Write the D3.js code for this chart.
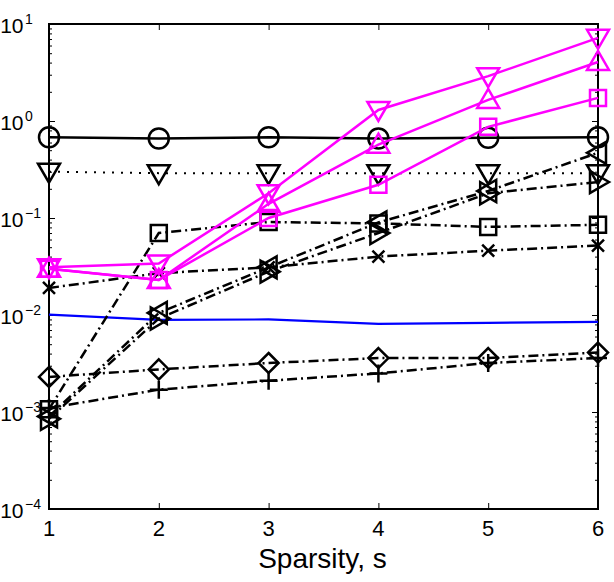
<!DOCTYPE html>
<html lang="en">
<head>
<meta charset="UTF-8">
<title>Sparsity chart</title>
<script src="https://d3js.org/d3.v7.min.js"></script>
<style>
    body { margin: 0; padding: 0; background: #fff; }
    svg { font-family: "Liberation Sans", Arial, sans-serif; }
</style>
</head>
<body>
<div id="chart"></div>
<script>
    // Data
    const sparsity = [1, 2, 3, 4, 5, 6];
    const xTickLabels = ["1", "2", "3", "4", "5", "6"];
    const yTickExps = [-4, -3, -2, -1, 0, 1];

    const circleVals   = [0.68, 0.66, 0.68, 0.66, 0.67, 0.68];
    const dotTriVals   = [0.30, 0.29, 0.29, 0.29, 0.29, 0.29];
    const magDownVals  = [0.031, 0.034, 0.18, 1.30, 2.9, 7.2];
    const magUpVals    = [0.030, 0.023, 0.14, 0.57, 1.65, 4.06];
    const magSqVals    = [0.030, 0.023, 0.10, 0.22, 0.87, 1.73];
    const squareVals   = [0.00107, 0.070, 0.091, 0.088, 0.081, 0.085];
    const crossVals    = [0.019, 0.027, 0.031, 0.040, 0.046, 0.052];
    const leftTriVals  = [0.0009, 0.0105, 0.031, 0.090, 0.19, 0.47];
    const rightTriVals = [0.00085, 0.0092, 0.028, 0.070, 0.18, 0.235];
    const blueVals     = [0.0101, 0.0089, 0.0090, 0.0081, 0.0083, 0.0085];
    const diamondVals  = [0.0023, 0.00275, 0.0032, 0.0036, 0.0036, 0.0041];
    const plusVals     = [0.0011, 0.0017, 0.0021, 0.0025, 0.0032, 0.0036];

    const series = [
        {vals: blueVals, color: "#0000ff", dash: null, marker: null, width: 2.2},
        {vals: plusVals, color: "#000", dash: "10,4,2,4", marker: "plus", width: 2.5},
        {vals: diamondVals, color: "#000", dash: "10,4,2,4", marker: "diamond", width: 2.5},
        {vals: rightTriVals, color: "#000", dash: "10,4,2,4", marker: "right", width: 2.5},
        {vals: leftTriVals, color: "#000", dash: "10,4,2,4", marker: "left", width: 2.5},
        {vals: crossVals, color: "#000", dash: "10,4,2,4", marker: "cross", width: 2.5},
        {vals: squareVals, color: "#000", dash: "10,4,2,4", marker: "square", width: 2.5},
        {vals: dotTriVals, color: "#000", dash: "2,7", marker: "down", width: 2},
        {vals: circleVals, color: "#000", dash: null, marker: "circle", width: 2.5},
        {vals: magSqVals, color: "#ff00ff", dash: null, marker: "square", width: 2.5},
        {vals: magUpVals, color: "#ff00ff", dash: null, marker: "up", width: 2.5},
        {vals: magDownVals, color: "#ff00ff", dash: null, marker: "down", width: 2.5}
    ];

    const W = 614, H = 582;
    const margin = {top: 24, right: 16, bottom: 73, left: 49};
    const width = W - margin.left - margin.right;
    const height = H - margin.top - margin.bottom;

    const svg = d3.select("#chart").append("svg")
        .attr("width", W).attr("height", H);
    const g = svg.append("g")
        .attr("transform", `translate(${margin.left},${margin.top})`);

    const x = d3.scaleLinear().domain([1, 6]).range([0, width]);
    const y = d3.scaleLog().domain([1e-4, 1e1]).range([height, 0]);

    // minor + major log ticks
    const minorTicks = [];
    for (let e = -4; e < 1; e++) for (let m = 2; m <= 9; m++) minorTicks.push(m * Math.pow(10, e));
    const majorTicks = yTickExps.map(e => Math.pow(10, e));

    function styleAxis(sel) {
        sel.select(".domain").remove();
        sel.selectAll("line").attr("stroke", "#000").attr("stroke-width", 1);
        sel.selectAll("text").remove();
    }

    g.append("g").call(d3.axisLeft(y).tickValues(minorTicks).tickSize(-3)).call(styleAxis);
    g.append("g").call(d3.axisLeft(y).tickValues(majorTicks).tickSize(-6)).call(styleAxis);
    g.append("g").attr("transform", `translate(${width},0)`)
        .call(d3.axisRight(y).tickValues(minorTicks).tickSize(-3)).call(styleAxis);
    g.append("g").attr("transform", `translate(${width},0)`)
        .call(d3.axisRight(y).tickValues(majorTicks).tickSize(-6)).call(styleAxis);
    g.append("g").attr("transform", `translate(0,${height})`)
        .call(d3.axisBottom(x).tickValues(sparsity).tickSize(-6)).call(styleAxis);
    g.append("g")
        .call(d3.axisTop(x).tickValues(sparsity).tickSize(-6)).call(styleAxis);

    // box
    g.append("rect").attr("width", width).attr("height", height)
        .attr("fill", "none").attr("stroke", "#000").attr("stroke-width", 2);

    // y tick labels 10^k
    yTickExps.forEach(e => {
        svg.append("text")
            .attr("x", 23.5).attr("y", margin.top + y(Math.pow(10, e)) + 9)
            .attr("text-anchor", "end").attr("font-size", 21)
            .text("10");
        svg.append("text")
            .attr("x", 25).attr("y", margin.top + y(Math.pow(10, e)))
            .attr("font-size", 14)
            .text(e < 0 ? "\u2212" + (-e) : String(e));
    });

    // x tick labels
    sparsity.forEach((s, i) => {
        svg.append("text")
            .attr("x", margin.left + x(s)).attr("y", margin.top + height + 27)
            .attr("text-anchor", "middle").attr("font-size", 22)
            .text(xTickLabels[i]);
    });

    svg.append("text")
        .attr("x", margin.left + width / 2 - 1).attr("y", 568)
        .attr("text-anchor", "middle").attr("font-size", 28)
        .text("Sparsity, s");

    const line = d3.line().x((d, i) => x(sparsity[i])).y(d => y(d));

    function markerPath(type) {
        const r = 10;
        switch (type) {
            case "square": return `M${-8},${-8}H8V8H-8Z`;
            case "diamond": return `M0,${-r}L${r},0L0,${r}L${-r},0Z`;
            case "up": return `M0,${-r - 1}L${r + 1},${r * 0.8}L${-r - 1},${r * 0.8}Z`;
            case "down": return `M0,${r + 1}L${r + 1},${-r * 0.8}L${-r - 1},${-r * 0.8}Z`;
            case "left": return `M${-r - 1},0L${r * 0.8},${-r - 1}L${r * 0.8},${r + 1}Z`;
            case "right": return `M${r + 1},0L${-r * 0.8},${-r - 1}L${-r * 0.8},${r + 1}Z`;
            case "plus": return `M0,-9V9M-9,0H9`;
            case "cross": return `M-6,-6L6,6M-6,6L6,-6`;
        }
        return "";
    }

    series.forEach(s => {
        g.append("path").datum(s.vals)
            .attr("d", line)
            .attr("fill", "none")
            .attr("stroke", s.color)
            .attr("stroke-width", s.width)
            .attr("stroke-dasharray", s.dash);
        if (!s.marker) return;
        const pts = g.append("g").selectAll("g").data(s.vals).enter().append("g")
            .attr("transform", (d, i) => `translate(${x(sparsity[i])},${y(d)})`);
        if (s.marker === "circle") {
            pts.append("circle").attr("r", 10)
                .attr("fill", "none").attr("stroke", s.color).attr("stroke-width", 2.5);
        } else {
            pts.append("path").attr("d", markerPath(s.marker))
                .attr("fill", "none").attr("stroke", s.color).attr("stroke-width", 2.5)
                .attr("stroke-linejoin", "miter");
        }
    });
</script>
</body>
</html>
